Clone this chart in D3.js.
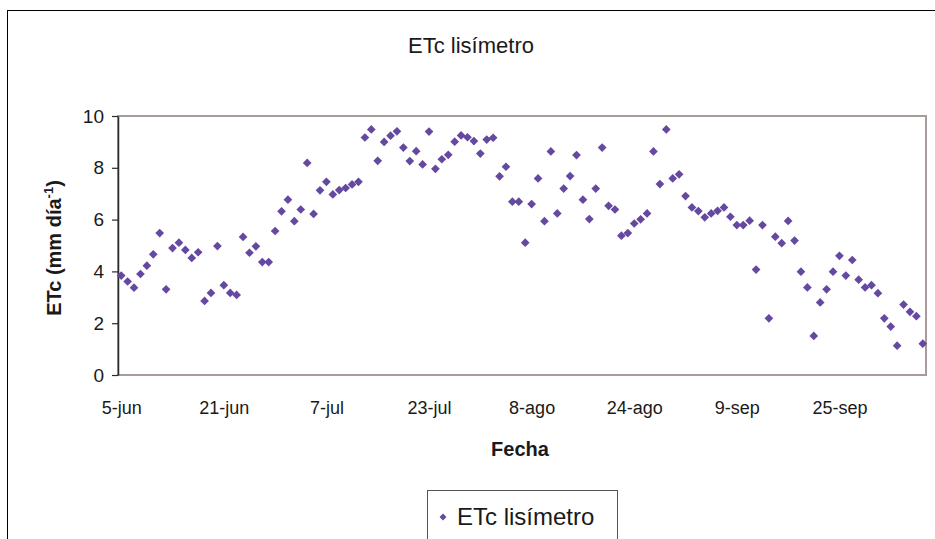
<!DOCTYPE html>
<html>
<head>
<meta charset="utf-8">
<script src="https://cdn.jsdelivr.net/npm/d3@7"></script>
<style>
  html, body { margin: 0; padding: 0; background: #fff; }
  svg { display: block; font-family: "Liberation Sans", Arial, sans-serif; }
</style>
</head>
<body>
<svg id="chart" width="935" height="539"></svg>
<script>
// Daily crop evapotranspiration measured by the lysimeter (mm/day), one reading per day
const startDay = "2006-06-05";
const etcValues = [
  3.84, 3.61, 3.37, 3.90, 4.22, 4.66, 5.48, 3.31, 4.90, 5.11, 4.83, 4.52, 4.74, 2.86, 3.17, 4.98,
  3.47, 3.17, 3.09, 5.33, 4.72, 4.97, 4.36, 4.36, 5.56, 6.32, 6.77, 5.94, 6.39, 8.19, 6.22, 7.13,
  7.46, 6.97, 7.14, 7.22, 7.36, 7.46, 9.17, 9.48, 8.27, 9.00, 9.24, 9.41, 8.78, 8.26, 8.64, 8.13,
  9.40, 7.96, 8.33, 8.50, 9.01, 9.25, 9.18, 9.03, 8.55, 9.09, 9.16, 7.67, 8.04, 6.69, 6.69, 5.11,
  6.60, 7.59, 5.94, 8.63, 6.24, 7.20, 7.68, 8.49, 6.77, 6.02, 7.20, 8.78, 6.53, 6.39, 5.38, 5.48,
  5.85, 6.01, 6.24, 8.63, 7.37, 9.48, 7.59, 7.75, 6.91, 6.47, 6.33, 6.09, 6.24, 6.34,
  6.47, 6.11, 5.79, 5.79, 5.96, 4.07, 5.79, 2.19, 5.34, 5.09, 5.95, 5.19, 3.99, 3.38, 1.51, 2.80,
  3.31, 3.99, 4.60, 3.84, 4.44, 3.68, 3.38, 3.47, 3.16, 2.19, 1.87, 1.13, 2.72, 2.44, 2.27, 1.21
];
const xTickLabels = ["5-jun", "21-jun", "7-jul", "23-jul", "8-ago", "24-ago", "9-sep", "25-sep"];
const yTicks = [0, 2, 4, 6, 8, 10];
const tickEveryDays = 16;

const t0 = d3.timeParse("%Y-%m-%d")(startDay);
const data = etcValues.map((v, i) => ({ date: d3.timeDay.offset(t0, i), value: v }));

const svg = d3.select("#chart");
const plot = { left: 118, right: 926, top: 116, bottom: 375 };
const ink = "#1a1a1a";
const markColor = "#6549a1";

// outer chart frame
svg.append("rect")
  .attr("x", 7.5).attr("y", 10.5)
  .attr("width", 960).attr("height", 560)
  .attr("fill", "#fff").attr("stroke", "#000").attr("stroke-width", 1);

// each day occupies one slot; marks sit in the slot centre
const x = d3.scaleTime()
  .domain([d3.timeHour.offset(data[0].date, -12), d3.timeHour.offset(data[data.length - 1].date, 12)])
  .range([plot.left, plot.right]);
const y = d3.scaleLinear().domain([0, 10]).range([plot.bottom, plot.top]);

// plot area border
svg.append("rect")
  .attr("x", plot.left).attr("y", plot.top)
  .attr("width", plot.right - plot.left).attr("height", plot.bottom - plot.top)
  .attr("fill", "none").attr("stroke", "#a89b9a").attr("stroke-width", 2);

// x axis: labels only, every 16 days
const xTickDates = xTickLabels.map((_, i) => data[i * tickEveryDays].date);
const xAxis = svg.append("g")
  .attr("transform", `translate(0,${plot.bottom})`)
  .call(d3.axisBottom(x).tickValues(xTickDates).tickSize(0).tickPadding(26)
    .tickFormat((d, i) => xTickLabels[i]));
xAxis.select(".domain").remove();
xAxis.selectAll("text").attr("font-size", 18).attr("fill", ink)
  .attr("font-family", "'Liberation Sans', Arial, sans-serif");

// y axis
const yAxis = svg.append("g")
  .attr("transform", `translate(${plot.left},0)`)
  .call(d3.axisLeft(y).tickValues(yTicks).tickSize(6).tickPadding(8).tickSizeOuter(0));
yAxis.select(".domain").attr("stroke", "#2a2a2a").attr("stroke-width", 1.5);
yAxis.selectAll(".tick line").attr("stroke", "#2a2a2a").attr("stroke-width", 1.2);
yAxis.selectAll("text").attr("font-size", 19).attr("fill", ink)
  .attr("font-family", "'Liberation Sans', Arial, sans-serif");

// diamond markers
const diamond = d3.symbol().type(d3.symbolSquare).size(38);
svg.append("g").selectAll("path")
  .data(data)
  .join("path")
  .attr("d", diamond)
  .attr("transform", d => `translate(${x(d.date)},${y(d.value)}) rotate(45)`)
  .attr("fill", markColor);

// title
svg.append("text")
  .attr("x", 471).attr("y", 53)
  .attr("text-anchor", "middle")
  .attr("font-size", 22).attr("fill", ink)
  .text("ETc lisímetro");

// axis titles
svg.append("text")
  .attr("x", 520).attr("y", 456)
  .attr("text-anchor", "middle")
  .attr("font-size", 20).attr("font-weight", "bold").attr("fill", ink)
  .text("Fecha");

const yTitle = svg.append("text")
  .attr("transform", "translate(61,248) rotate(-90)")
  .attr("text-anchor", "middle")
  .attr("font-size", 20).attr("font-weight", "bold").attr("fill", ink);
yTitle.append("tspan").text("ETc (mm día");
yTitle.append("tspan").attr("font-size", 13).attr("dy", -8).text("-1");
yTitle.append("tspan").attr("dy", 8).text(")");

// legend
const legend = svg.append("g");
legend.append("rect")
  .attr("x", 427.5).attr("y", 490.5).attr("width", 190).attr("height", 60)
  .attr("fill", "#fff").attr("stroke", "#555").attr("stroke-width", 1);
legend.append("path")
  .attr("d", d3.symbol().type(d3.symbolSquare).size(24))
  .attr("transform", "translate(443,517) rotate(45)")
  .attr("fill", markColor);
legend.append("text")
  .attr("x", 457).attr("y", 525)
  .attr("font-size", 24).attr("fill", ink)
  .text("ETc lisímetro");
</script>
</body>
</html>
